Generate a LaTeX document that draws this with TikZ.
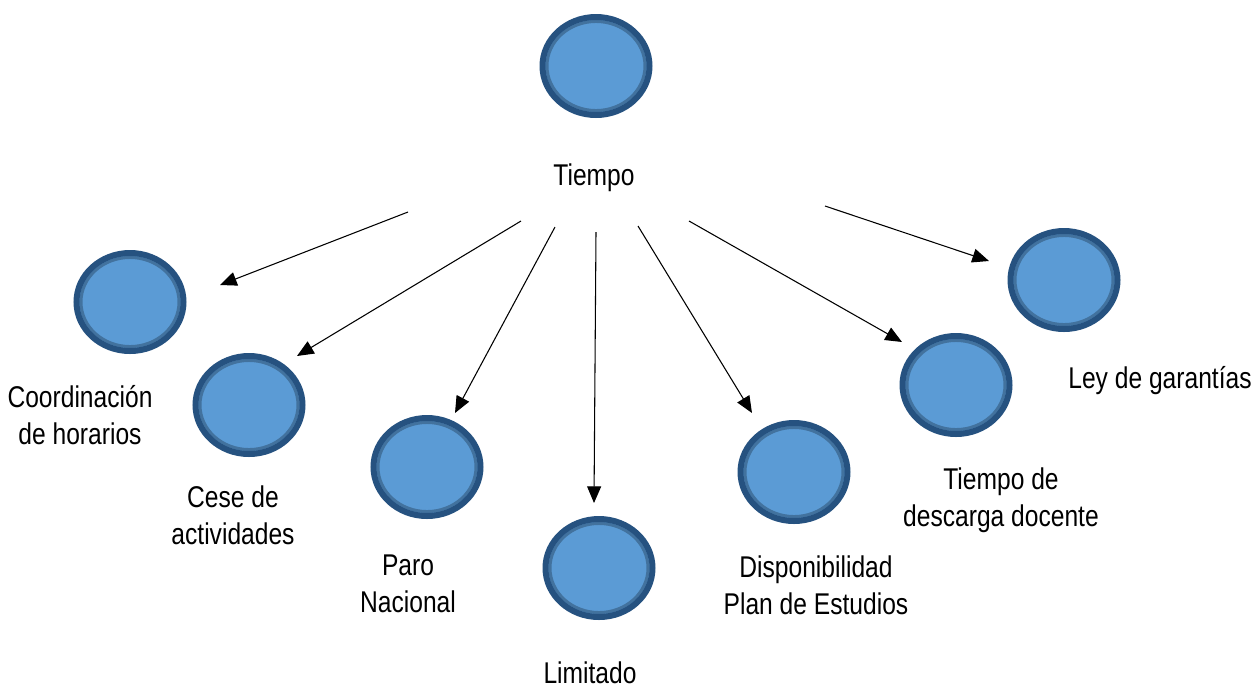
\documentclass[tikz,border=0pt]{standalone}
\usepackage{fontspec}
\setmainfont{Liberation Sans}[FakeStretch=0.82]
\usetikzlibrary{shapes.geometric,arrows.meta}
\definecolor{bubfill}{RGB}{91,155,213}
\definecolor{ringdark}{RGB}{38,82,128}
\definecolor{ringlight}{RGB}{66,114,158}

\begin{document}
\begin{tikzpicture}[x=0.75pt,y=-0.75pt,
  bub/.style={ellipse, draw=ringdark, line width=4.5pt, fill=bubfill, inner sep=0pt,
    minimum width=80.25pt, minimum height=73.5pt,
    path picture={\draw[ringlight, line width=2.25pt] (path picture bounding box.center) ellipse [x radius=36.75pt, y radius=33.4pt];}},
  lbl/.style={font=\fontsize{22.5}{27.75}\selectfont, align=center, inner sep=0pt},
  arr/.style={-{Triangle[length=12.5pt,width=10.5pt]}, line width=0.8pt}]
\useasboundingbox (0,0) rectangle (1254,687);
% circles
\node[bub] (tiempo) at (596,66) {};
\node[bub] (coord) at (130,302) {};
\node[bub] (cese) at (249,405) {};
\node[bub] (paro) at (427,467) {};
\node[bub] (limit) at (599,568) {};
\node[bub] (disp) at (794,472) {};
\node[bub] (desc) at (956,385) {};
\node[bub] (ley) at (1064,280) {};
% labels
\node[lbl, anchor=base] (ltiempo) at (594,185) {Tiempo};
\node[lbl] (lcoord) at (80,415) {Coordinación\\de horarios};
\node[lbl] (lcese) at (233,515) {Cese de\\actividades};
\node[lbl] (lparo) at (408,584) {Paro\\Nacional};
\node[lbl, anchor=base] (llimit) at (590,683) {Limitado};
\node[lbl] (ldisp) at (816,585) {Disponibilidad\\Plan de Estudios};
\node[lbl] (ldesc) at (1001,500) {Tiempo de\\descarga docente};
\node[lbl, anchor=base] (lley) at (1160,388) {Ley de garantías};
% arrow ends
\coordinate (a1) at (408,212); \coordinate (b1) at (220,285);
\coordinate (a2) at (521,221); \coordinate (b2) at (297,356);
\coordinate (a3) at (555,227); \coordinate (b3) at (455,413);
\coordinate (a4) at (596,232); \coordinate (b4) at (594,503);
\coordinate (a5) at (638,226); \coordinate (b5) at (752,413);
\coordinate (a6) at (689,221); \coordinate (b6) at (902,342);
\coordinate (a7) at (825,206); \coordinate (b7) at (989,261);
\foreach \i in {1,...,7} \draw[arr] (a\i) -- (b\i);
\end{tikzpicture}
\end{document}
